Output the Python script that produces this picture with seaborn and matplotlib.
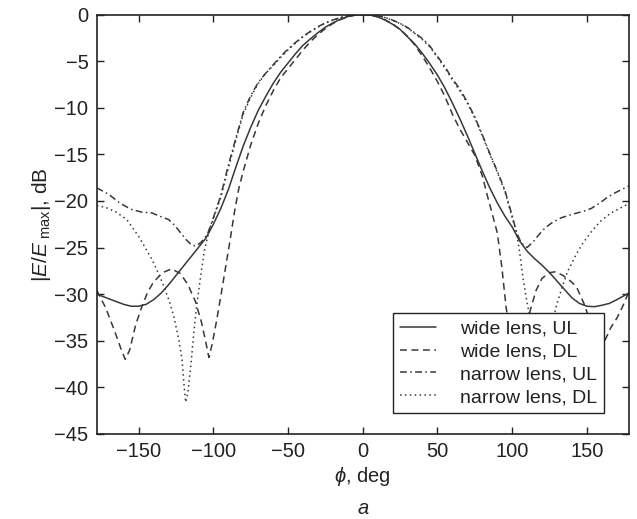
import numpy as np
import pandas as pd
import matplotlib
matplotlib.use("Agg")
import matplotlib.pyplot as plt
import seaborn as sns


# Radiation pattern data (phi in deg, level in dB)

wide_ul_phi = [-178, -170, -165, -160, -155, -150, -145, -140, -135, -130, -125, -120, -115, -110, -105,
               -100, -95, -90, -85, -80, -75,
               -70, -65, -60, -55, -50, -45, -40, -35, -30, -25, -20, -15, -10, -5, 0,
               5, 10, 15, 20, 25, 30, 35, 40, 45, 50, 55, 60, 65, 70, 75, 80, 85, 90, 95, 100,
               105, 110, 115, 120, 125, 130, 135, 140, 145, 150, 155, 160, 165, 170, 178]
wide_ul_db = [-30.0, -30.5, -30.8, -31.1, -31.3, -31.3, -31.1, -30.6, -29.9, -29.0, -28.0, -27.0, -26.0, -25.0, -24.0,
              -22.5, -20.8, -18.8, -16.4, -14.1, -12.1,
              -10.3, -8.8, -7.4, -6.2, -5.2, -4.2, -3.3, -2.6, -1.95, -1.35, -0.9, -0.5, -0.22, -0.05, 0.0,
              -0.06, -0.25, -0.6, -1.05, -1.6, -2.4, -3.2, -4.2, -5.3, -6.5, -7.9, -9.5, -11.2, -13.0, -14.9,
              -16.8, -18.6, -20.2, -21.6, -22.8,
              -24.3, -25.4, -26.2, -26.9, -27.7, -28.6, -29.5, -30.4, -31.0, -31.3, -31.35, -31.2, -31.0, -30.6, -29.9]

wide_dl_phi = [-178, -172, -166, -162, -159, -156, -152, -148, -144, -140, -134, -128, -122, -117, -112,
               -108, -105, -103, -101, -98, -95, -92, -89, -86, -83, -80, -75, -70, -65, -60, -55,
               -50, -45, -40, -35, -30, -25, -20, -15, -10, -5, 0,
               5, 10, 15, 20, 25, 30, 35, 40, 45, 50, 55, 60, 65, 70, 75, 80, 83, 86, 90, 93, 96,
               99, 102, 104, 106, 109, 112, 116, 120, 125, 129, 134, 139, 143, 148, 152, 155, 158,
               160, 162, 166, 170, 174, 178]
wide_dl_db = [-29.6, -31.5, -34.0, -35.8, -37.0, -36.0, -33.3, -31.4, -29.8, -28.7, -27.7, -27.3, -27.8, -29.0, -30.8,
              -33.0, -35.2, -36.8, -35.5, -33.0, -30.2, -27.3, -24.4, -21.3, -18.7, -16.8, -14.0, -11.7, -9.8, -8.2, -6.8,
              -5.8, -4.8, -3.8, -2.9, -2.15, -1.5, -0.96, -0.55, -0.24, -0.06, 0.0,
              -0.06, -0.25, -0.58, -1.0, -1.6, -2.35, -3.3, -4.5, -5.8, -7.2, -8.8, -10.7, -12.3, -13.7, -15.1, -17.3,
              -19.2, -21.0, -23.4, -27.0, -31.5,
              -34.5, -36.6, -37.0, -36.2, -34.2, -31.8, -29.6, -28.3, -27.7, -27.6, -28.0, -28.6, -29.2, -31.0, -32.8,
              -34.8, -36.8, -36.5, -35.0, -33.6, -32.6, -31.3, -29.8]

narrow_ul_phi = [-178, -170, -162, -155, -148, -141, -135, -130, -126, -122, -118, -114, -111, -108, -104,
                 -100, -95, -90, -85, -80, -75, -70, -65, -60, -55, -50, -45, -40, -35, -30, -25, -20,
                 -15, -10, -5, 0,
                 5, 10, 15, 20, 25, 30, 35, 40, 45, 50, 55, 60, 65, 70, 75, 80, 85, 90, 95, 100, 103,
                 106, 110, 114, 118, 122, 127, 133, 141, 148, 153, 158, 163, 168, 173, 178]
narrow_ul_db = [-18.6, -19.3, -20.3, -20.9, -21.2, -21.3, -21.7, -22.0, -22.6, -23.4, -24.2, -24.8, -24.8, -24.4, -23.6,
                -21.8, -19.4, -16.2, -13.3, -10.5, -8.7, -7.3, -6.3, -5.4, -4.5, -3.7, -3.0, -2.35, -1.8, -1.3, -0.9, -0.58,
                -0.32, -0.14, -0.03, 0.0,
                -0.03, -0.14, -0.32, -0.6, -0.95, -1.4, -2.0, -2.6, -3.4, -4.5, -5.6, -6.9, -8.0, -9.4, -11.0, -12.9,
                -14.9, -16.8, -18.8, -21.6, -23.4,
                -24.5, -25.0, -24.4, -23.6, -22.9, -22.3, -21.8, -21.4, -21.1, -20.8, -20.3, -19.7, -19.2, -18.8, -18.4]

narrow_dl_phi = [-178, -172, -165, -158, -150, -145, -141, -137, -133, -129, -126, -123, -121, -119.5, -118.5,
                 -117, -115, -113, -111, -108, -106, -103, -100, -95, -90, -85, -80, -75, -70, -65, -60,
                 -55, -50, -45, -40, -35, -30, -25, -20, -15, -10, -5, 0,
                 5, 10, 15, 20, 25, 30, 35, 40, 45, 50, 55, 60, 65, 70, 75, 80, 85, 90, 95, 100, 103,
                 105, 107, 109, 111, 113, 115, 117, 119, 121, 123, 125, 127, 130, 134, 137, 142, 147,
                 153, 159, 166, 172, 178]
narrow_dl_db = [-20.5, -20.7, -21.2, -22.0, -23.8, -25.2, -26.3, -27.7, -29.2, -31.0, -32.7, -35.0, -37.0, -40.0, -41.6,
                -40.5, -37.5, -34.0, -31.0, -27.5, -25.3, -23.3, -21.9, -19.6, -16.5, -13.5, -10.7, -8.9, -7.4, -6.3, -5.5,
                -4.6, -3.8, -3.05, -2.4, -1.85, -1.35, -0.92, -0.6, -0.33, -0.15, -0.04, 0.0,
                -0.04, -0.15, -0.34, -0.62, -0.98, -1.45, -2.05, -2.7, -3.5, -4.6, -5.75, -7.0, -8.2, -9.5, -11.1,
                -13.0, -15.0, -16.9, -18.9, -21.8, -23.5,
                -25.5, -28.0, -30.0, -31.8, -35.0, -37.5, -39.5, -40.2, -39.0, -37.0, -35.0, -33.0, -31.0, -29.0,
                -27.6, -26.0, -24.6, -23.3, -22.2, -21.3, -20.8, -20.3]

series = [
    ("wide lens, UL", wide_ul_phi, wide_ul_db, "-"),
    ("wide lens, DL", wide_dl_phi, wide_dl_db, (0, (4.5, 3))),
    ("narrow lens, UL", narrow_ul_phi, narrow_ul_db, (0, (4.5, 2.2, 1, 2.2))),
    ("narrow lens, DL", narrow_dl_phi, narrow_dl_db, (0, (1, 2.2))),
]


# Style

sns.set_style("ticks")
plt.rcParams["font.family"] = ["Liberation Sans", "DejaVu Sans"]
plt.rcParams["mathtext.fontset"] = "custom"
plt.rcParams["mathtext.rm"] = "Liberation Sans"
plt.rcParams["mathtext.it"] = "Liberation Sans:italic"
plt.rcParams["mathtext.fallback"] = "cm"

ink = "#222222"
line_col = "#383838"

fig = plt.figure(figsize=(6.37, 5.19), dpi=100)
ax = fig.add_axes([0.152, 0.164, 0.835, 0.808])

for name, phi, db, ls in series:
    df = pd.DataFrame({"phi": phi, "dB": db})
    sns.lineplot(data=df, x="phi", y="dB", ax=ax, color=line_col, lw=1.1,
                 linestyle=ls, label=name, errorbar=None)

ax.set_xlim(-178, 178)
ax.set_ylim(-45, 0)
ax.set_xticks(np.arange(-150, 151, 50))
ax.set_yticks(np.arange(-45, 1, 5))
ax.set_xticklabels([f"\u2212{abs(v)}" if v < 0 else str(v) for v in range(-150, 151, 50)])
ax.set_yticklabels([f"\u2212{abs(v)}" if v < 0 else str(v) for v in range(-45, 1, 5)])

ax.tick_params(direction="in", length=5, width=1, colors=ink, labelsize=14.5,
               top=True, right=True, pad=6)
for sp in ax.spines.values():
    sp.set_visible(True)
    sp.set_color(ink)
    sp.set_linewidth(1.2)

ax.set_xlabel(r"$\phi$, deg", fontsize=14.5, color=ink, labelpad=3)
ax.set_ylabel(r"$|E/E_{\rm \ max}|$, dB", fontsize=15, color=ink, labelpad=1)

leg = ax.legend(loc="lower right", bbox_to_anchor=(0.953, 0.05), borderaxespad=0,
                fontsize=14, frameon=True, fancybox=False, framealpha=1,
                handlelength=1.9, handletextpad=1.2, labelspacing=0.27, borderpad=0.35)
leg.get_frame().set_edgecolor(ink)
leg.get_frame().set_linewidth(1.0)
for t in leg.get_texts():
    t.set_color(ink)

fig.text(363 / 637, 1 - 508 / 519, "a", fontsize=14.5, style="italic", color=ink,
         ha="center", va="center")

plt.savefig("out.png", dpi=100)
